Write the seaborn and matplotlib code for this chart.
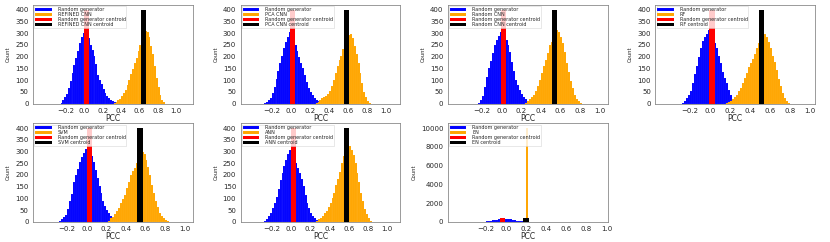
import numpy as np
import pandas as pd
import matplotlib
matplotlib.use("Agg")
import matplotlib.pyplot as plt
import seaborn as sns

sns.set_style("white")
plt.rcParams['font.family'] = ['DejaVu Sans']

BIN_W = 0.02
CENT_H = 400
CENT_W = 0.052

models = ["REFINED CNN", "PCA CNN", "Random CNN", "RF", "SVM", "ANN", "EN"]

# ---- REFINED CNN ----
refined_rand_start = -0.25
refined_rand = [3, 14, 27, 42, 65, 95, 130, 165, 195, 225, 258, 285, 300, 296, 290, 278, 250, 228,
                203, 168, 120, 100, 84, 62, 45, 33, 24, 17, 12, 7, 3]
refined_model_start = 0.33
refined_model = [4, 9, 14, 20, 31, 44, 59, 78, 101, 125, 149, 172, 196, 225, 252, 275, 296, 310, 305,
                 282, 245, 210, 160, 110, 70, 36, 16, 5]
refined_centroids = [0.019, 0.643]

# ---- PCA CNN ----
pca_rand_start = -0.27
pca_rand = [3, 8, 16, 25, 45, 72, 105, 140, 175, 205, 235, 262, 285, 305, 295, 270, 248, 225, 200,
            175, 150, 120, 92, 68, 50, 35, 24, 16, 10, 4]
pca_model_start = 0.27
pca_model = [3, 8, 15, 22, 28, 33, 40, 55, 76, 100, 130, 160, 185, 204, 232, 260, 282, 292, 298, 280,
             247, 210, 172, 130, 90, 50, 28, 12, 4]
pca_centroids = [0.021, 0.582]

# ---- Random CNN ----
randcnn_rand_start = -0.23
randcnn_rand = [4, 15, 32, 70, 115, 150, 180, 215, 248, 270, 290, 305, 302, 290, 270, 248, 220, 178,
                140, 102, 80, 60, 40, 27, 18, 11, 4]
randcnn_model_start = 0.25
randcnn_model = [4, 11, 19, 27, 38, 55, 75, 100, 130, 160, 185, 215, 250, 262, 270, 292, 315, 305, 285,
                 258, 222, 175, 135, 95, 65, 38, 20, 10, 3]
randcnn_centroids = [0.023, 0.544]

# ---- RF ----
rf_rand_start = -0.27
rf_rand = [3, 11, 22, 35, 55, 90, 125, 160, 200, 235, 265, 285, 298, 312, 300, 285, 260, 235, 205,
           175, 135, 110, 88, 58, 38, 14, 6, 2]
rf_model_start = 0.17
rf_model = [4, 8, 13, 18, 28, 38, 52, 68, 88, 110, 130, 155, 175, 192, 211, 236, 260, 282, 292, 297,
            282, 262, 235, 205, 176, 142, 105, 75, 45, 26, 12, 4]
rf_centroids = [0.017, 0.517]

# ---- SVM ----
svm_rand_start = -0.27
svm_rand = [4, 12, 20, 30, 55, 89, 120, 168, 198, 225, 255, 275, 292, 310, 305, 300, 280, 255, 222,
            188, 155, 122, 89, 68, 52, 38, 26, 18, 10]
svm_model_start = 0.23
svm_model = [6, 15, 22, 32, 45, 60, 80, 98, 116, 145, 172, 198, 215, 228, 250, 275, 288, 300, 290, 262,
             232, 198, 158, 122, 88, 62, 40, 25, 15, 9, 4]
svm_centroids = [0.023, 0.544]

# ---- ANN ----
ann_rand_start = -0.27
ann_rand = [4, 14, 26, 38, 58, 82, 108, 140, 178, 208, 238, 262, 288, 305, 300, 275, 250, 230, 210,
            185, 152, 115, 82, 58, 38, 24, 16, 10, 4]
ann_model_start = 0.27
ann_model = [6, 13, 18, 25, 36, 48, 65, 82, 102, 125, 158, 185, 212, 252, 280, 292, 305, 322, 305, 285,
             250, 210, 168, 125, 89, 55, 32, 15, 5]
ann_centroids = [0.021, 0.576]

# ---- EN ----
en_rand_start = -0.25
en_rand = [5, 15, 30, 55, 90, 130, 175, 215, 255, 285, 305, 320, 330, 320, 300, 270, 235, 195, 150,
           110, 75, 45, 25, 12, 5, 2]
en_model_start = 0.21
en_model = [10000]
en_centroids = [-0.03, 0.20]

panels = [
    (refined_rand_start, refined_rand, refined_model_start, refined_model, refined_centroids),
    (pca_rand_start, pca_rand, pca_model_start, pca_model, pca_centroids),
    (randcnn_rand_start, randcnn_rand, randcnn_model_start, randcnn_model, randcnn_centroids),
    (rf_rand_start, rf_rand, rf_model_start, rf_model, rf_centroids),
    (svm_rand_start, svm_rand, svm_model_start, svm_model, svm_centroids),
    (ann_rand_start, ann_rand, ann_model_start, ann_model, ann_centroids),
    (en_rand_start, en_rand, en_model_start, en_model, en_centroids),
]

xlims = [(-0.56, 1.185), (-0.526, 1.147), (-0.55, 1.085), (-0.55, 1.05),
         (-0.548, 1.085), (-0.526, 1.135), (-0.574, 1.01)]

fig, axes = plt.subplots(2, 4, figsize=(8.3, 2.42), dpi=100)
fig.subplots_adjust(left=0.04, right=0.982, top=0.979, bottom=0.083, wspace=0.298, hspace=0.2)
axes = axes.ravel()

SPINE = '#8a8a8a'

def hist_from_counts(ax, start, counts, color, label):
    counts = np.asarray(counts, dtype=float)
    centers = start + BIN_W * np.arange(len(counts))
    df = pd.DataFrame({'PCC': centers, 'w': counts})
    lo = float(centers[0] - BIN_W / 2)
    hi = float(centers[-1] + BIN_W / 2)
    sns.histplot(data=df, x='PCC', weights='w', binwidth=BIN_W, binrange=(lo, hi),
                 color=color, alpha=1, edgecolor=(1, 1, 1, 0.35), linewidth=0.1, ax=ax, label=label)

for i, (name, (rs, rc, ms, mc, cents)) in enumerate(zip(models, panels)):
    ax = axes[i]
    hist_from_counts(ax, rs, rc, 'blue', 'Random generator')
    hist_from_counts(ax, ms, mc, 'orange', name)
    ax.bar([cents[0]], [CENT_H], width=CENT_W, color='red', linewidth=0,
           label='Random generator centroid')
    ax.bar([cents[1]], [CENT_H], width=CENT_W, color='black', linewidth=0,
           label=f'{name} centroid')
    ax.set_xlim(*xlims[i])
    ax.set_xticks([-0.2, 0.0, 0.2, 0.4, 0.6, 0.8, 1.0])
    if name == "EN":
        ax.set_ylim(0, 10500)
        ax.set_yticks(np.arange(0, 10001, 2000))
    else:
        ax.set_ylim(0, 420)
        ax.set_yticks(np.arange(0, 401, 50))
    ax.set_xlabel('PCC', fontsize=5.5, labelpad=0)
    ax.set_ylabel('Count', fontsize=3.8, labelpad=3)
    ax.tick_params(axis='both', labelsize=5, length=2, width=0.5, pad=1.2, color='#444')
    for s in ax.spines.values():
        s.set_color(SPINE)
        s.set_linewidth(0.6)
    leg = ax.legend(loc='upper left', fontsize=3.5, handlelength=3.4, handleheight=0.45,
                    labelspacing=0.0, borderpad=0.15, borderaxespad=0.25, handletextpad=1.2,
                    frameon=True, framealpha=0.8, fancybox=False)
    leg.get_frame().set_edgecolor('#cccccc')
    leg.get_frame().set_linewidth(0.4)

axes[7].axis('off')

fig.savefig('out.png', dpi=100)
